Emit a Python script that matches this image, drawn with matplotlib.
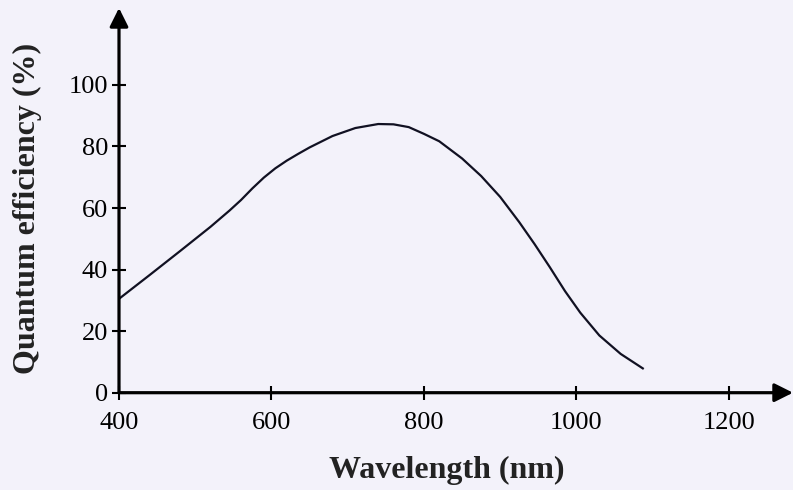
import matplotlib
matplotlib.use("Agg")
import matplotlib.pyplot as plt

# 読み取った値
wavelength = [400, 440, 480, 520, 545, 560, 575, 590, 605, 620, 635, 650, 680, 710, 740, 760, 780, 800, 820,
              850, 875, 900, 925, 945, 965, 985, 1005, 1030, 1058, 1087]
efficiency = [30.5, 38.2, 46.0, 53.9, 59.2, 62.6, 66.4, 69.9, 72.9, 75.4, 77.6, 79.7, 83.4, 86.0, 87.3, 87.2, 86.3, 84.1, 81.7,
              76.1, 70.4, 63.6, 55.4, 48.3, 40.8, 33.0, 26.0, 18.6, 12.6, 7.9]
xticks = [400, 600, 800, 1000, 1200]
yticks = [0, 20, 40, 60, 80, 100]

plt.rcParams["font.family"] = ["Liberation Serif", "DejaVu Serif"]
bg = "#f3f2fa"

fig = plt.figure(figsize=(7.93, 4.90), dpi=100, facecolor=bg)
ax = fig.add_axes([119 / 793, 1 - 392.7 / 490, 1 - 119 / 793, (392.7 - 8) / 490])
ax.set_facecolor(bg)

ax.plot(wavelength, efficiency, color="#111122", lw=1.6, solid_joinstyle="round")

ax.set_xlim(400, 1284)
ax.set_ylim(0, 125)
for s in ax.spines.values():
    s.set_visible(False)

# 矢印つきの軸
ax.annotate("", xy=(1.0, 0), xytext=(0, 0), xycoords="axes fraction",
            arrowprops=dict(arrowstyle="-|>", lw=2.3, color="black", mutation_scale=28, shrinkA=0, shrinkB=0))
ax.annotate("", xy=(0, 1.0), xytext=(0, 0), xycoords="axes fraction",
            arrowprops=dict(arrowstyle="-|>", lw=2.3, color="black", mutation_scale=28, shrinkA=0, shrinkB=0))

ax.set_xticks(xticks)
ax.set_yticks(yticks)
ax.tick_params(axis="x", direction="inout", length=10, width=1.5, labelsize=19, pad=9)
ax.tick_params(axis="y", direction="inout", length=10, width=1.5, labelsize=19, pad=3)

fig.text(447 / 793, 1 - 470 / 490, "Wavelength (nm)", ha="center", va="center",
         fontsize=23, fontweight="bold", color="#222222")
fig.text(27 / 793, 1 - 208 / 490, "Quantum efficiency (%)", ha="center", va="center",
         rotation=90, fontsize=23, fontweight="bold", color="#222222")

fig.savefig("out.png", dpi=100, facecolor=bg)
